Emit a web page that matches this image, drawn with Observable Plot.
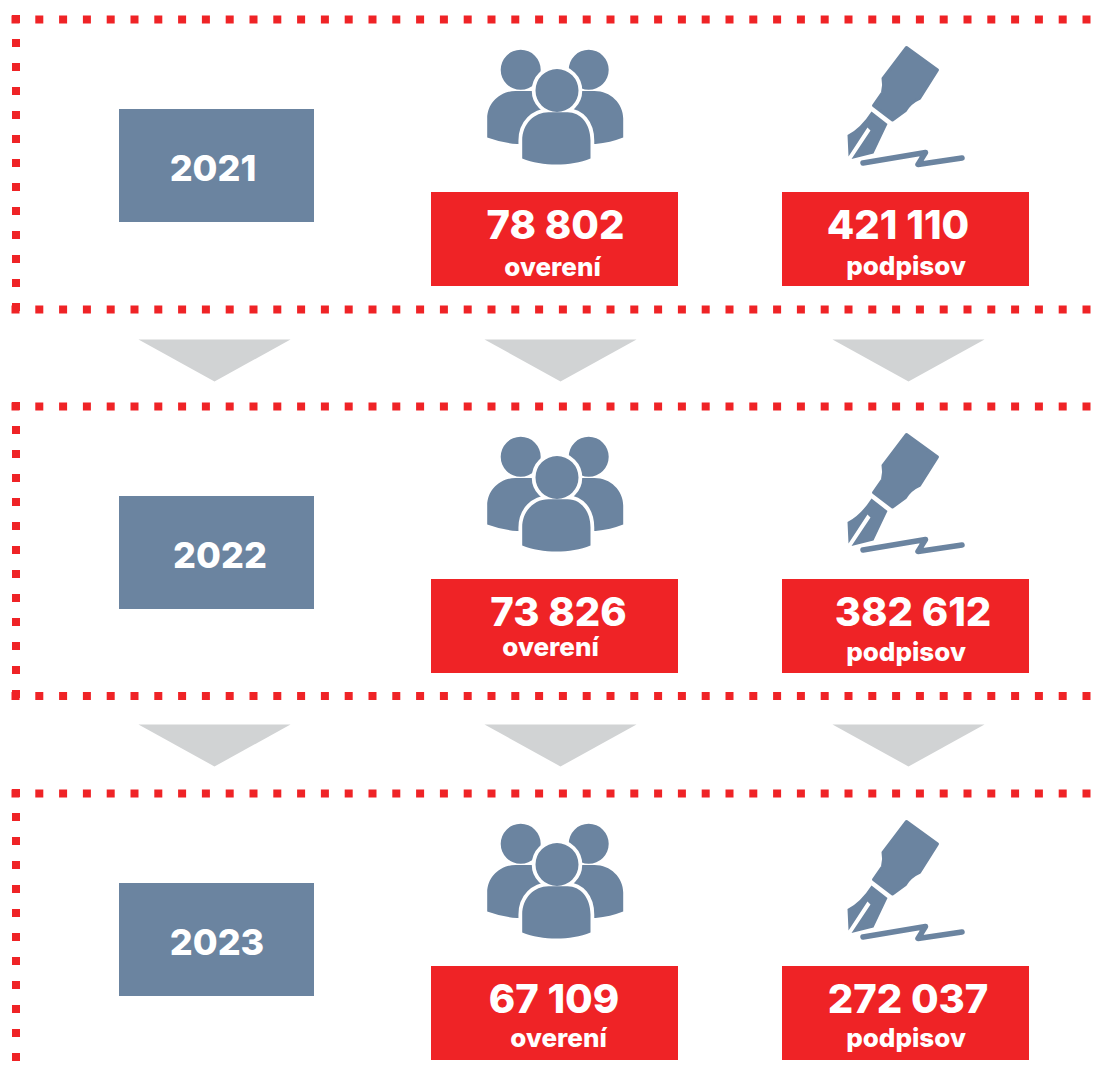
<!DOCTYPE html>
<html lang="sk">
<head>
<meta charset="utf-8">
<title>Overenia a podpisy 2021–2023</title>
<style>html,body{margin:0;padding:0;background:#fff;overflow:hidden}svg{display:block}</style>
<script src="https://cdn.jsdelivr.net/npm/d3@7"></script>
<script src="https://cdn.jsdelivr.net/npm/@observablehq/plot@0.6"></script>
</head>
<body>
<div id="chart"></div>
<script>
const years = ["2021", "2022", "2023"];
const verifications = ["78 802", "73 826", "67 109"];
const signatures = ["421 110", "382 612", "272 037"];
const verificationLabel = "overení";
const signatureLabel = "podpisov";

const rowShift = [0, 387, 774];
const yearCenter = [212.5, 219.5, 216.5];
const verificationCenter = [555, 558, 553.5];
const signatureCenter = [897.5, 912.5, 907.5];
const verificationLabelCenter = [552, 550, 558];
const verificationLabelY = [267, 647, 1038];
const signatureLabelY = [266, 652, 1038];
const dottedTop = [19, 406, 793];
const dottedBottom = [309, 695.5, null];
const dottedEnd = [313, 700, 1064];
const arrowColumns = [214, 560, 908];
const arrowTops = [339, 724];

const slate = "#6b84a0", red = "#ef2326", grey = "#d1d3d4";
const font = "Inter, Lato, sans-serif";
const rows = years.map((year, i) => ({year, i, dy: rowShift[i]}));

const shape = draw => ({draw: ctx => draw(ctx)});
const arrow = shape(c => { c.moveTo(-76, 0); c.lineTo(76, 0); c.lineTo(0, 42); c.closePath(); });

const circle = (c, x, y, r) => { c.moveTo(x + r, y); c.arc(x, y, r, 0, 2 * Math.PI); c.closePath(); };
// people icon, origin at the icon's top-left reference corner
const backPeople = shape(c => {
  circle(c, 50.2, 39.3, 20);
  c.moveTo(16.7, 107); c.lineTo(16.7, 88);
  c.bezierCurveTo(16.7, 73, 29, 60.5, 45, 60.5);
  c.lineTo(90, 60.5); c.lineTo(90, 113.5);
  c.quadraticCurveTo(66, 114, 46.5, 113.5); c.quadraticCurveTo(30, 112, 16.7, 107); c.closePath();
  circle(c, 118.2, 39.3, 20);
  c.moveTo(152.7, 107); c.lineTo(152.7, 88);
  c.bezierCurveTo(152.7, 73, 140, 60.5, 124, 60.5);
  c.lineTo(85, 60.5); c.lineTo(85, 113.5);
  c.quadraticCurveTo(105, 114, 125, 113.5); c.quadraticCurveTo(140, 112, 152.7, 107); c.closePath();
});
const frontPerson = shape(c => {
  circle(c, 86.5, 60, 21.5);
  c.moveTo(51.7, 128); c.lineTo(51.7, 110);
  c.bezierCurveTo(51.7, 93, 64, 81.7, 78, 81.7);
  c.lineTo(97, 81.7);
  c.bezierCurveTo(110, 81.7, 120, 93, 120, 110);
  c.lineTo(120, 128);
  c.bezierCurveTo(100, 136, 72, 136, 51.7, 128); c.closePath();
});
// pen icon
const penBody = shape(c => {
  c.moveTo(76, 17); c.lineTo(107, 39.5); c.lineTo(89, 68);
  c.quadraticCurveTo(80, 72, 75, 80); c.lineTo(62, 89.5);
  c.lineTo(43, 75); c.lineTo(52, 62);
  c.quadraticCurveTo(54, 55, 52.5, 48); c.closePath();
});
const penNib = shape(c => {
  c.moveTo(41, 81); c.lineTo(57, 93.5); c.lineTo(43, 123);
  c.lineTo(21, 128.5); c.lineTo(40, 100); c.lineTo(37, 97); c.lineTo(18, 126);
  c.lineTo(17, 104.5); c.quadraticCurveTo(30, 98, 41, 81); c.closePath();
});
const scribble = shape(c => {
  c.moveTo(32.5, 132.5); c.lineTo(95, 122); c.lineTo(87.5, 134); c.lineTo(131.5, 127.5);
});

const peopleX = 470, penX = 830;
const at = x => ({x: () => x, y: d => 30 + d.dy});
const arrows = arrowTops.flatMap(y => arrowColumns.map(x => ({x, y})));
const hRows = [...dottedTop, ...dottedBottom.filter(d => d != null)];
const vRows = dottedTop.map((y, i) => ({y1: y - 4, y2: dottedEnd[i]}));

const textStyle = {fill: "#fff", fontFamily: font, fontWeight: 800, textAnchor: "middle"};

const chart = Plot.plot({
  width: 1102, height: 1079, margin: 0,
  x: {type: "linear", domain: [0, 1102], range: [0, 1102], axis: null},
  y: {type: "linear", domain: [0, 1079], range: [0, 1079], axis: null},
  marks: [
    Plot.ruleY(hRows, {y: d => d, x1: 11.5, x2: 1092, stroke: red, strokeWidth: 8, strokeDasharray: "8 15.8"}),
    Plot.ruleX(vRows, {x: () => 15.5, y1: "y1", y2: "y2", stroke: red, strokeWidth: 8, strokeDasharray: "8 16"}),
    Plot.dot(arrows, {x: "x", y: "y", symbol: arrow, fill: grey, stroke: "none"}),
    Plot.rect(rows, {x1: () => 119, x2: () => 314, y1: d => 109 + d.dy, y2: d => 222 + d.dy, fill: slate}),
    Plot.rect(rows, {x1: () => 431, x2: () => 678, y1: d => 192 + d.dy, y2: d => 286 + d.dy, fill: red}),
    Plot.rect(rows, {x1: () => 782, x2: () => 1029, y1: d => 192 + d.dy, y2: d => 286 + d.dy, fill: red}),
    Plot.dot(rows, {...at(peopleX), symbol: backPeople, fill: slate, stroke: "none"}),
    Plot.dot(rows, {...at(peopleX), symbol: frontPerson, fill: slate, stroke: "#fff", strokeWidth: 7.5, paintOrder: "stroke"}),
    Plot.dot(rows, {...at(penX), symbol: penBody, fill: slate, stroke: slate, strokeWidth: 3, strokeLinejoin: "round"}),
    Plot.dot(rows, {...at(penX), symbol: penNib, fill: slate, stroke: "none"}),
    Plot.dot(rows, {...at(penX), symbol: scribble, fill: "none", stroke: slate, strokeWidth: 5.5, strokeLinecap: "round", strokeLinejoin: "round"}),
    Plot.text(rows, {...textStyle, text: "year", x: d => yearCenter[d.i], y: d => 169 + d.dy, fontSize: 36}),
    Plot.text(rows, {...textStyle, text: d => verifications[d.i], x: d => verificationCenter[d.i], y: d => 226 + d.dy, fontSize: 40}),
    Plot.text(rows, {...textStyle, text: d => signatures[d.i], x: d => signatureCenter[d.i], y: d => 226 + d.dy, fontSize: 40}),
    Plot.text(rows, {...textStyle, text: () => verificationLabel, x: d => verificationLabelCenter[d.i], y: d => verificationLabelY[d.i], fontSize: 26}),
    Plot.text(rows, {...textStyle, text: () => signatureLabel, x: () => 905.5, y: d => signatureLabelY[d.i], fontSize: 26})
  ]
});
document.getElementById("chart").append(chart);
</script>
</body>
</html>
